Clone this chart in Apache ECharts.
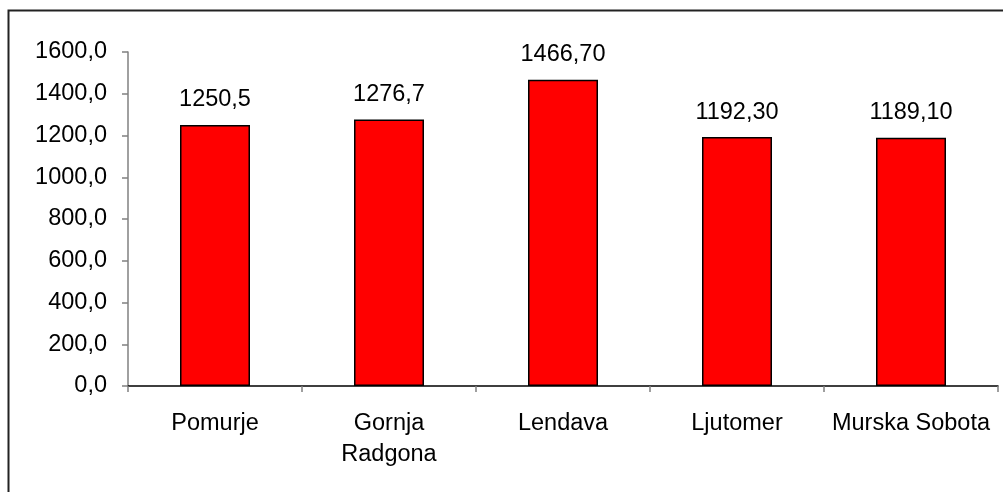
<!DOCTYPE html>
<html>
<head>
<meta charset="UTF-8">
<title></title>
<script src="https://cdn.jsdelivr.net/npm/echarts@6/dist/echarts.min.js"></script>
<style>
  html, body { margin: 0; padding: 0; background: #fff; }
  #chart { width: 1003px; height: 492px; }
</style>
</head>
<body>
<div id="chart"></div>
<script>
var categories = ['Pomurje', 'Gornja\nRadgona', 'Lendava', 'Ljutomer', 'Murska Sobota'];
var values = [1250.5, 1276.7, 1466.7, 1192.3, 1189.1];
var valueLabels = ['1250,5', '1276,7', '1466,70', '1192,30', '1189,10'];

var font = 'Liberation Sans, Arial, sans-serif';

var myChart = echarts.init(document.getElementById('chart'));
myChart.setOption({
  animation: false,
  backgroundColor: '#fff',
  graphic: [{
    type: 'rect',
    shape: { x: 8.5, y: 10.5, width: 1010, height: 500 },
    style: { fill: 'none', stroke: '#222', lineWidth: 2 },
    silent: true
  }],
  grid: { left: 128, right: 5, top: 52, bottom: 106 },
  xAxis: {
    type: 'category',
    data: categories,
    axisLine: { lineStyle: { color: '#000', width: 1.5 } },
    axisTick: { show: true, length: 6, lineStyle: { color: '#808080', width: 1.5 } },
    axisLabel: { color: '#000', fontFamily: font, fontSize: 23.5, lineHeight: 31, margin: 22, interval: 0 }
  },
  yAxis: {
    type: 'value',
    min: 0,
    max: 1600,
    interval: 200,
    axisLine: { show: true, lineStyle: { color: '#808080', width: 1.5 } },
    axisTick: { show: true, length: 6, lineStyle: { color: '#808080', width: 1.5 } },
    splitLine: { show: false },
    axisLabel: {
      color: '#000', fontFamily: font, fontSize: 23.5, margin: 21,
      formatter: function (v) { return v.toFixed(1).replace('.', ','); }
    }
  },
  series: [{
    type: 'bar',
    data: values,
    barWidth: 70,
    itemStyle: { color: '#ff0000', borderColor: '#000', borderWidth: 1.5 },
    label: {
      show: true,
      position: 'top',
      distance: 13,
      color: '#000',
      fontFamily: font,
      fontSize: 23.5,
      formatter: function (p) { return valueLabels[p.dataIndex]; }
    }
  }]
});
</script>
</body>
</html>
